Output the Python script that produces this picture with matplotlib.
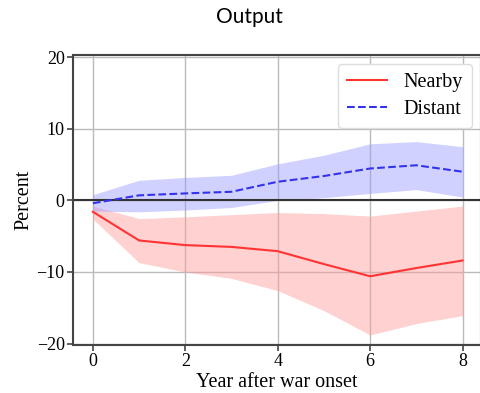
import matplotlib
matplotlib.use("Agg")
import matplotlib.pyplot as plt
import numpy as np

years = [0, 1, 2, 3, 4, 5, 6, 7, 8]
nearby = [-1.6, -5.6, -6.25, -6.5, -7.1, -8.9, -10.6, -9.45, -8.4]
nearby_hi = [-0.8, -2.55, -2.3, -2.0, -1.7, -1.85, -2.2, -1.5, -0.8]
nearby_lo = [-2.6, -8.7, -10.0, -10.9, -12.6, -15.4, -18.8, -17.2, -16.1]
distant = [-0.4, 0.7, 0.97, 1.2, 2.6, 3.4, 4.45, 4.9, 4.0]
distant_hi = [0.8, 2.8, 3.2, 3.5, 5.1, 6.3, 7.9, 8.2, 7.5]
distant_lo = [-1.5, -1.6, -1.35, -1.0, 0.0, 0.37, 0.97, 1.5, 0.46]
xticks = [0, 2, 4, 6, 8]
yticks = [-20, -10, 0, 10, 20]

plt.rcParams['font.family'] = ['Liberation Serif', 'DejaVu Serif']

fig = plt.figure(figsize=(4.8, 3.93), dpi=100)
ax = fig.add_axes([73/480, 1-345/393, (481-73)/480, (345-55)/393])

ax.fill_between(years, nearby_lo, nearby_hi, color='#ff9999', alpha=0.45, lw=0)
ax.fill_between(years, distant_lo, distant_hi, color='#9999ff', alpha=0.45, lw=0)
ax.axhline(0, color='#333333', lw=1.5, zorder=1.5)
ax.plot(years, nearby, color='#ff3333', lw=1.5, label='Nearby')
ax.plot(years, distant, color='#3333ee', lw=1.5, ls='--', label='Distant')

ax.set_xlim(-0.43, 8.4)
ax.set_ylim(-20.2, 20.3)
ax.set_xticks(xticks)
ax.set_yticks(yticks)
ax.set_yticklabels(['\u221220', '\u221210', '0', '10', '20'])
ax.grid(True, color='#bbbbbb', lw=1)
ax.set_axisbelow(True)
for s in ax.spines.values():
    s.set_color('#444444')
    s.set_linewidth(1.5)
ax.tick_params(labelsize=13, width=1.2, length=4, color='#444444', pad=2)
ax.set_xlabel('Year after war onset', fontsize=14.5, labelpad=2)
ax.set_ylabel('Percent', fontsize=14.5, labelpad=2)

leg = ax.legend(loc='upper right', fontsize=14.5, framealpha=1, edgecolor='#dddddd',
                handlelength=2.0, borderpad=0.45, labelspacing=0.4,
                borderaxespad=0.45)

fig.text(249/480, 1-17/393, 'Output', ha='center', va='center', fontsize=15,
         family=['Lato', 'DejaVu Sans'])

fig.savefig('out.png', dpi=100)
